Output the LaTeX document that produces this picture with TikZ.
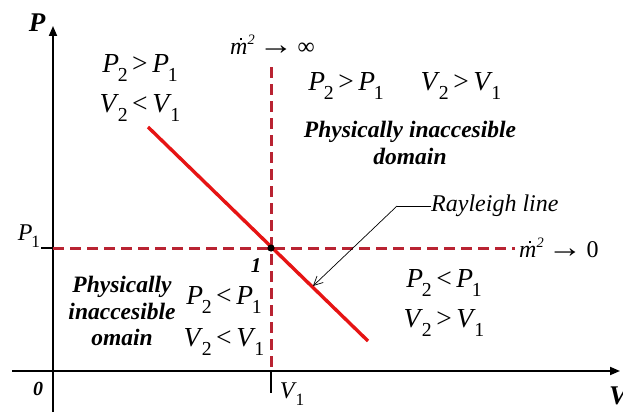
\documentclass[tikz,border=0pt]{standalone}
\usepackage{fontspec}
\usepackage{graphicx}
\setmainfont{Liberation Serif}
\usetikzlibrary{arrows.meta}
\definecolor{dashred}{RGB}{185,35,50}
\definecolor{rayred}{RGB}{230,20,20}
\newcommand\sbx[1]{\raisebox{-0.32em}{\scalebox{0.72}{#1}}}
\newcommand\vv[2]{\textit{#1}\kern-0.05em\sbx{#2}}
\newcommand\mdot{\ooalign{\textit{m}\cr\hidewidth\kern0.2em\raisebox{0.6em}{\rule{0.09em}{0.09em}}\hidewidth\cr}\raisebox{0.42em}{\scalebox{0.6}{\textit{2}}}}
\newcommand\bigarr{\raisebox{0.02em}{\scalebox{1.45}[1.25]{\textbf{→}}}}
\tikzset{
  axis/.style={line width=1.8pt,-{Triangle[length=10pt,width=8pt]}},
  dsh/.style={dashred,line width=3pt,dash pattern=on 11pt off 6pt},
  rel/.style={font=\fontsize{27.5}{32}\selectfont,inner sep=0pt},
  bi/.style={font=\fontsize{23.5}{26.5}\selectfont\bfseries\itshape,inner sep=0pt,align=center},
  lbl/.style={font=\fontsize{24}{28}\selectfont,inner sep=0pt},
}
\begin{document}
\begin{tikzpicture}[x=1pt,y=-1pt]
\useasboundingbox (0,0) rectangle (623,412);
% axes
\coordinate (xs) at (12,371);
\coordinate (xe) at (620,371);
\coordinate (ys) at (53,412);
\coordinate (ye) at (53,26);
\draw[axis] (xs) -- (xe);
\draw[axis] (ys) -- (ye);
% key point
\coordinate (pt) at (271,248);
\coordinate (hs) at (53,248);
\coordinate (he) at (515,248);
\coordinate (vs) at (271,67);
\coordinate (ve) at (271,371);
\draw[dsh] (hs) -- (he);
\draw[dsh] (vs) -- (ve);
% ticks
\coordinate (pt1) at (41,248);
\coordinate (vt1) at (271,393);
\draw[line width=1.6pt] (pt1) -- (hs);
\draw[line width=1.6pt] (ve) -- (vt1);
% Rayleigh line
\coordinate (ra) at (148,127);
\coordinate (rb) at (368,341);
\draw[rayred,line width=3.4pt] (ra) -- (rb);
\fill (pt) circle (3.6pt);
% leader
\node[font=\fontsize{24}{28}\selectfont\itshape,inner sep=0pt,anchor=west] (rl) at (431,206) {Rayleigh line};
\coordinate (lk) at (397,206);
\coordinate (la) at (313,286);
\draw[line width=0.7pt] (rl.west) -- (lk);
\draw[line width=0.7pt,-{Straight Barb[length=9pt,width=9pt]}] (lk) -- (la);
% labels
\node[font=\fontsize{27}{30}\selectfont\bfseries\itshape,inner sep=0pt] (lP) at (37,23) {P};
\node[font=\fontsize{27}{30}\selectfont\bfseries\itshape,inner sep=0pt,anchor=west] (lV) at (609,396) {V};
\node[font=\fontsize{20}{24}\selectfont\bfseries\itshape,inner sep=0pt] (l0) at (38,389) {0};
\node[font=\fontsize{21}{24}\selectfont\bfseries\itshape,inner sep=0pt] (l1) at (256,266) {1};
\node[lbl] (lP1) at (29,236) {\vv{P}{1}};
\node[lbl] (lV1) at (292,394) {\vv{V}{1}};
\node[lbl,anchor=west] (minf) at (230,45) {\mdot\,\bigarr\,∞};
\node[lbl,anchor=west] (mzero) at (519,248) {\mdot\,\bigarr\,0};
% region texts
\node[rel] (q2a) at (140,68) {\vv{P}{2}\,>\,\vv{P}{1}};
\node[rel] (q2b) at (140,108) {\vv{V}{2}\,<\,\vv{V}{1}};
\node[rel] (q1a) at (346,86) {\vv{P}{2}\,>\,\vv{P}{1}};
\node[rel] (q1b) at (461,86) {\vv{V}{2}\,>\,\vv{V}{1}};
\node[bi] (q1c) at (410,143) {Physically inaccesible\\domain};
\node[bi] (q3c) at (122,311) {Physically\\inaccesible\\omain};
\node[rel] (q3a) at (224,300) {\vv{P}{2}\,<\,\vv{P}{1}};
\node[rel] (q3b) at (224,342) {\vv{V}{2}\,<\,\vv{V}{1}};
\node[rel] (q4a) at (444,283) {\vv{P}{2}\,<\,\vv{P}{1}};
\node[rel] (q4b) at (444,323) {\vv{V}{2}\,>\,\vv{V}{1}};
\end{tikzpicture}
\end{document}
